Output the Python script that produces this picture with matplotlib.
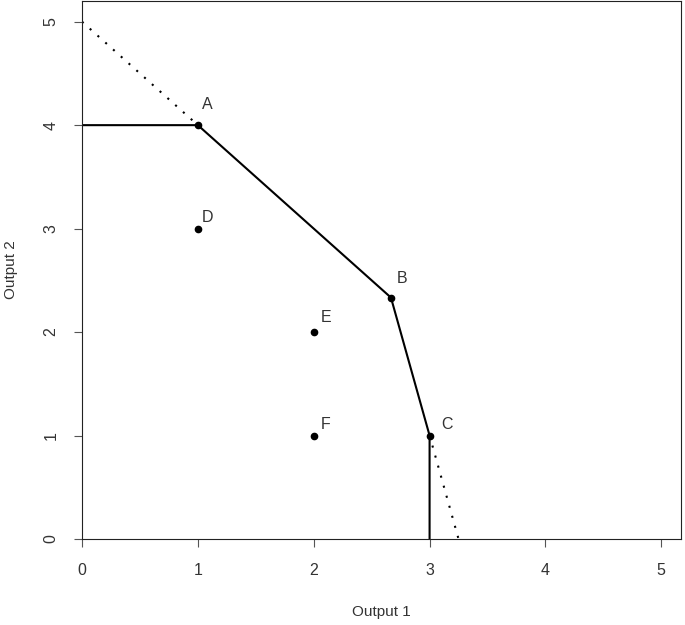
import matplotlib
matplotlib.use("Agg")
import matplotlib.pyplot as plt

plt.rcParams['font.family'] = ['Liberation Sans', 'DejaVu Sans']

names = ["A", "B", "C", "D", "E", "F"]
out1 = [1, 8/3, 3, 1, 2, 2]
out2 = [4, 7/3, 1, 3, 2, 1]
label_dx = [0.08, 0.10, 0.15, 0.08, 0.11, 0.10]
label_dy = [0.20, 0.18, 0.11, 0.11, 0.14, 0.11]

frontier_x = [0, 1, 8/3, 3, 3]
frontier_y = [4, 4, 7/3, 1, 0]
ext1_x = [0, 1]
ext1_y = [5, 4]
ext2_x = [3, 3.25]
ext2_y = [1, 0]

fig = plt.figure(figsize=(6.85, 6.25), dpi=100)
ax = fig.add_axes([82/685, (625-539)/625, (681-82)/685, (538)/625])
ax.set_xlim(0, 5.17)
ax.set_ylim(0, 5.2)

ax.plot(frontier_x, frontier_y, color="black", lw=1.5, solid_capstyle="butt")
ax.plot(ext1_x, ext1_y, color="black", lw=1.5, linestyle=(0, (1, 4)))
ax.plot(ext2_x, ext2_y, color="black", lw=1.5, linestyle=(0, (1, 4)))
ax.plot(out1, out2, "o", color="black", markersize=4.5, linestyle="none")
for n, x, y, dx, dy in zip(names, out1, out2, label_dx, label_dy):
    ax.text(x + dx, y + dy, n, fontsize=11.5, color="#333333", ha="center", va="center")

ax.set_xticks([0, 1, 2, 3, 4, 5])
ax.set_yticks([0, 1, 2, 3, 4, 5])
ax.set_yticklabels(["0", "1", "2", "3", "4", "5"], rotation=90, va="center")
ax.tick_params(direction="out", length=6, width=0.8, color="#555555", labelsize=11.5,
               labelcolor="#333333", pad=11)
for s in ax.spines.values():
    s.set_linewidth(0.8)
    s.set_color("#222222")
ax.set_xlabel("Output 1", fontsize=11, color="#333333", va="center")
ax.set_ylabel("Output 2", fontsize=11, color="#333333", va="center")
ax.xaxis.set_label_coords(0.5, (539 - 612) / 538)
ax.yaxis.set_label_coords((11 - 82) / 599, 0.5)

fig.savefig("out.png", dpi=100)
